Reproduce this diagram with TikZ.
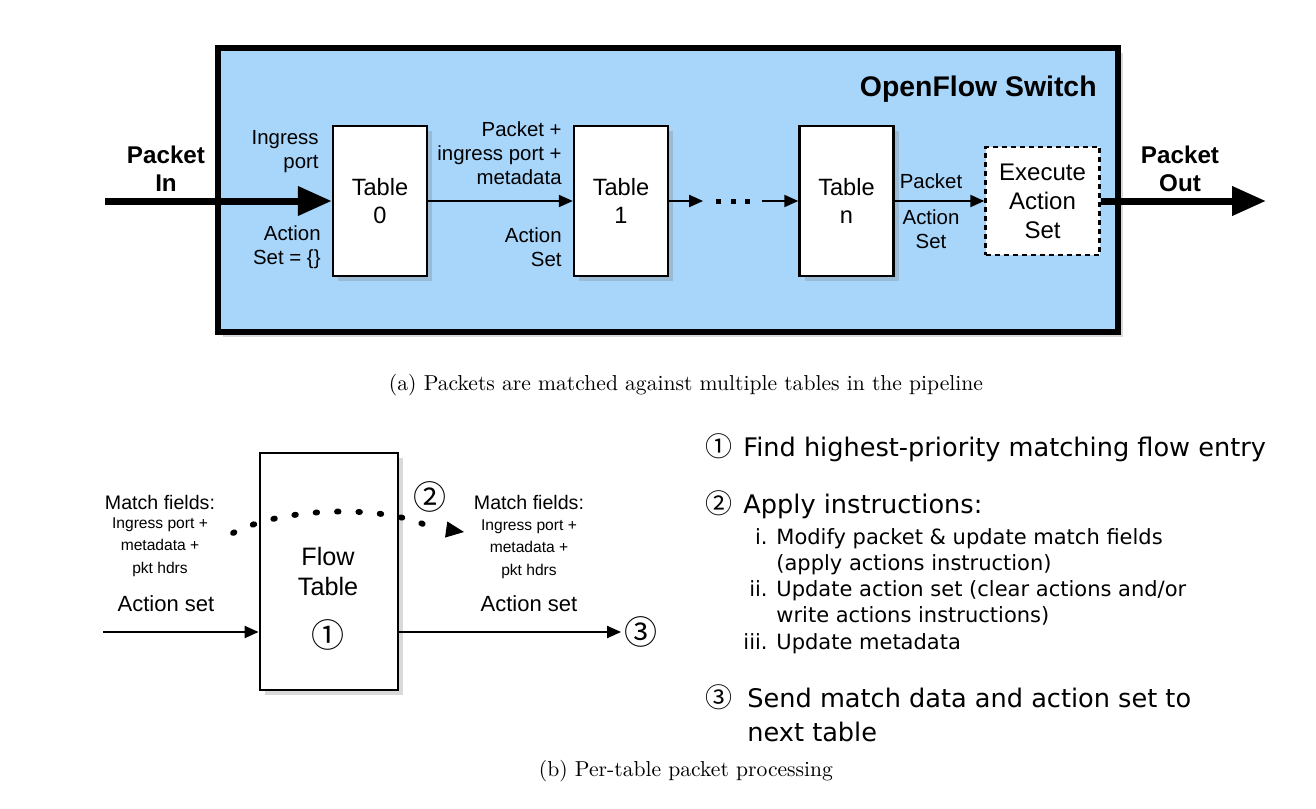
\documentclass[tikz,border=0pt]{standalone}
\usepackage{fontspec}
\newfontfamily\arial{Liberation Sans}
\newfontfamily\dejavu{DejaVu Sans}
\newfontfamily\circfont{Noto Sans CJK JP}
\usetikzlibrary{arrows.meta,shadows}
\definecolor{swblue}{RGB}{168,213,250}
\newcommand\fsz[2]{\fontsize{#1}{#2}\selectfont}
\tikzset{
  shad/.style={drop shadow={shadow xshift=2.5pt,shadow yshift=-2.5pt,opacity=0.3}},
  switchbox/.style={draw, line width=3pt, fill=swblue, minimum width=450pt, minimum height=142pt, inner sep=0pt, shad},
  tbl/.style={draw, line width=1.2pt, fill=white, minimum width=47pt, minimum height=75pt, inner sep=0pt, align=center, font=\arial\fsz{11.8}{14}, shad},
  execbox/.style={draw, line width=1.2pt, dash pattern=on 2.5pt off 2pt, fill=white, minimum width=57pt, minimum height=54pt, inner sep=0pt, align=center, font=\arial\fsz{12}{14.5}},
  flowbox/.style={draw, line width=1.4pt, fill=white, minimum width=69pt, minimum height=118.5pt, inner sep=0pt, shad},
  lbl/.style={inner sep=0pt, align=right, font=\arial\fsz{10.2}{12}},
  boldlbl/.style={inner sep=0pt, align=center, font=\arial\bfseries\fsz{12.1}{14}},
  thickarrow/.style={line width=3.5pt, -{Triangle[length=17pt,width=14pt]}},
  thinarrow/.style={line width=1pt, -{Triangle[length=7pt,width=6pt]}},
  circnum/.style={inner sep=0pt, font=\circfont\fsz{16.5}{20}},
  mflbl/.style={inner sep=0pt, align=center, font=\arial\fsz{9.8}{11}},
  mfsub/.style={inner sep=0pt, align=center, font=\arial\fsz{7.8}{11.3}},
  aslbl/.style={inner sep=0pt, font=\arial\fsz{11}{13}},
  listmain/.style={inner sep=0pt, anchor=base west, font=\dejavu\fsz{12.8}{15}},
  listnum/.style={inner sep=0pt, anchor=base west, font=\circfont\fsz{13.5}{15}},
  listsub/.style={inner sep=0pt, anchor=base west, font=\dejavu\fsz{10.5}{13}},
  listroman/.style={inner sep=0pt, anchor=base east, font=\dejavu\fsz{10.5}{13}},
  caption/.style={inner sep=0pt, font=\fsz{10.8}{13}}
}
\begin{document}
\begin{tikzpicture}[x=0.5pt,y=-0.5pt]
\useasboundingbox (0,0) rectangle (1316,808);

% ---------- (a) ----------
\node[switchbox] (sw) at (668,190) {};
\node[inner sep=0pt, anchor=east, font=\arial\bfseries\fsz{14.2}{16}] (title) at (1097,89) {OpenFlow Switch};

\node[tbl] (t0) at (380,201) {Table\\0};
\node[tbl] (t1) at (621,201) {Table\\1};
\node[tbl] (tn) at (846.5,201) {Table\\n};
\node[execbox] (ex) at (1042.5,201) {Execute\\Action\\Set};
\node[inner sep=0pt, minimum width=29pt, minimum height=4pt] (dots) at (732.5,201) {};
\foreach \xx in {718,733,747} \fill (\xx-2.5,198.5) rectangle ++(5,5);

\coordinate (pin) at (105,201);
\coordinate (pout) at (1266,201);
\draw[thickarrow] (pin) -- (t0.west);
\draw[thickarrow] (ex.east) -- (pout);
\draw[thinarrow] (t0.east) -- (t1.west);
\draw[thinarrow] (t1.east) -- (dots.west);
\draw[thinarrow] (dots.east) -- (tn.west);
\draw[thinarrow] (tn.east) -- (ex.west);

\node[boldlbl] (pinl) at (166,169) {Packet\\In};
\node[boldlbl] (poutl) at (1180,169) {Packet\\Out};
\node[lbl, anchor=east] (l1) at (319,152) {Ingress\\port};
\node[lbl, anchor=east] (l2) at (321,247) {Action\\Set = \{\}};
\node[lbl, anchor=east] (l3) at (562,153) {Packet +\\ingress port +\\metadata};
\node[lbl, anchor=east] (l4) at (562,247) {Action\\Set};
\node[lbl, align=center] (l5) at (931,181) {Packet};
\node[lbl, align=center] (l6) at (931,229) {Action\\Set};

\node[caption] (capa) at (686,385) {(a) Packets are matched against multiple tables in the pipeline};

% ---------- (b) ----------
\node[flowbox] (ft) at (329,571.5) {};
\node[inner sep=0pt, align=center, font=\arial\fsz{12.6}{15}] (ftl) at (328,571) {Flow\\Table};
\node[circnum] (c1) at (328,635) {①};
\node[circnum] (c2) at (430,497) {②};
\node[circnum] (c3) at (641,632) {③};

\coordinate (lin) at (103,632);
\draw[thinarrow] (lin) -- (lin -| ft.west);
\draw[thinarrow] (ft.east |- c3) -- ([xshift=-1.5pt]c3.west);

\node[mflbl] (mf1) at (160,502) {Match fields:};
\node[mfsub] (mf1b) at (160,547) {Ingress port +\\metadata +\\pkt hdrs};
\node[aslbl] (as1) at (166,604) {Action set};
\node[mflbl] (mf2) at (529,502) {Match fields:};
\node[mfsub] (mf2b) at (529,549) {Ingress port +\\metadata +\\pkt hdrs};
\node[aslbl] (as2) at (529,604) {Action set};

\coordinate (ds) at (233,533);
\coordinate (dm) at (430,527);
\coordinate (dt) at (446,529.5);
\coordinate (de) at (464,532);
\draw[line width=2.9pt, line cap=round, dash pattern=on 0.8pt off 9.9pt]
  (ds) .. controls (285,506) and (385,505) .. (dm);
\draw[line width=0.5pt, -{Triangle[length=9pt,width=8pt]}] (dt) -- (de);

% ---------- list ----------
\node[listnum] (n1) at (705,456) {①};
\node[listmain] (r1) at (743,456) {Find highest-priority matching flow entry};
\node[listnum] (n2) at (705,513) {②};
\node[listmain] (r2) at (743,513) {Apply instructions:};
\node[listroman] (i1) at (768,544) {i.};
\node[listsub] (s1) at (776,544) {Modify packet \& update match fields};
\node[listsub] (s1b) at (776,570) {(apply actions instruction)};
\node[listroman] (i2) at (768,596) {ii.};
\node[listsub] (s2) at (776,596) {Update action set (clear actions and/or};
\node[listsub] (s2b) at (776,622) {write actions instructions)};
\node[listroman] (i3) at (768,649) {iii.};
\node[listsub] (s3) at (776,649) {Update metadata};
\node[listnum] (n3) at (705,707) {③};
\node[listmain] (r3) at (747,707) {Send match data and action set to};
\node[listmain] (r3b) at (747,741) {next table};

\node[caption] (capb) at (686,771) {(b) Per-table packet processing};
\end{tikzpicture}
\end{document}
